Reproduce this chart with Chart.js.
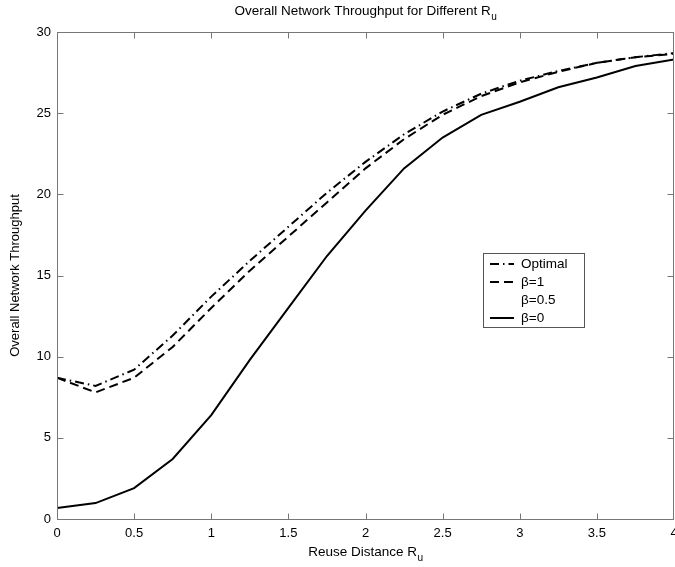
<!DOCTYPE html>
<html>
<head>
<meta charset="utf-8">
<script src="https://cdn.jsdelivr.net/npm/chart.js@4.4.0/dist/chart.umd.min.js"></script>
<style>
html,body{margin:0;padding:0;background:#fff;}
#wrap{width:675px;height:567px;position:relative;}
</style>
</head>
<body>
<div id="wrap"><canvas id="c" width="675" height="567"></canvas></div>
<script>
const reuseDistance = [0,0.25,0.5,0.75,1,1.25,1.5,1.75,2,2.25,2.5,2.75,3,3.25,3.5,3.75,4];
const optimal = [8.7,8.2,9.2,11.3,13.7,15.9,18.0,20.1,22.0,23.7,25.1,26.2,27.0,27.6,28.1,28.45,28.7];
const beta1   = [8.7,7.8,8.7,10.6,13.0,15.3,17.4,19.5,21.6,23.4,24.9,26.05,26.9,27.55,28.1,28.45,28.65];
const beta05  = [];
const beta0   = [0.68,0.98,1.9,3.7,6.4,9.8,13.0,16.2,19.0,21.6,23.5,24.9,25.7,26.6,27.2,27.9,28.3];
const xTickValues = [0,0.5,1,1.5,2,2.5,3,3.5,4];
const yTickValues = [0,5,10,15,20,25,30];
const titleText = ['Overall Network Throughput for Different R','u'];
const xTitleText = ['Reuse Distance R','u'];
const yTitleText = 'Overall Network Throughput';

const FONT = '"Liberation Sans", Arial, Helvetica, sans-serif';
const pts = arr => arr.map((v,i)=>({x:reuseDistance[i], y:v}));

const boxPlugin = {
  id:'boxPlugin',
  afterDatasetsDraw(chart){
    const ctx = chart.ctx, a = chart.chartArea;
    const xs = chart.scales.x, ys = chart.scales.y;
    ctx.save();
    ctx.strokeStyle = '#777';
    ctx.lineWidth = 1;
    const L = Math.round(a.left)+0.5, T = Math.round(a.top)+0.5;
    const R = Math.round(a.right)-0.5, B = Math.round(a.bottom)+0.5;
    ctx.strokeRect(L, T, R-L, B-T);
    const tl = 6;
    ctx.beginPath();
    xTickValues.forEach(v=>{
      let px = Math.round(xs.getPixelForValue(v))+0.5;
      if (px > R) px = R;
      ctx.moveTo(px, B); ctx.lineTo(px, B - tl);
      ctx.moveTo(px, T); ctx.lineTo(px, T + tl);
    });
    yTickValues.forEach(v=>{
      const py = Math.round(ys.getPixelForValue(v))+0.5;
      ctx.moveTo(L, py); ctx.lineTo(L + tl, py);
      ctx.moveTo(R, py); ctx.lineTo(R - tl, py);
    });
    ctx.stroke();
    ctx.restore();
  },
  afterDraw(chart){
    const ctx = chart.ctx, a = chart.chartArea;
    ctx.save();
    ctx.fillStyle = '#000';
    const drawSub = (parts, cx, baseY, size) => {
      ctx.font = size + 'px ' + FONT;
      const w1 = ctx.measureText(parts[0]).width;
      ctx.font = (size*0.75) + 'px ' + FONT;
      const w2 = ctx.measureText(parts[1]).width;
      const x0 = cx - (w1 + w2)/2;
      ctx.textAlign = 'left'; ctx.textBaseline = 'alphabetic';
      ctx.font = size + 'px ' + FONT;
      ctx.fillText(parts[0], x0, baseY);
      ctx.font = (size*0.75) + 'px ' + FONT;
      ctx.fillText(parts[1], x0 + w1 + 0.5, baseY + 5);
    };
    const cx = (a.left + a.right)/2;
    drawSub(titleText, cx, 15, 13.5);
    drawSub(xTitleText, cx, 556, 13.5);
    ctx.save();
    ctx.translate(15, (a.top + a.bottom)/2);
    ctx.rotate(-Math.PI/2);
    ctx.font = '13px ' + FONT;
    ctx.textAlign = 'center'; ctx.textBaseline = 'middle';
    ctx.fillText(yTitleText, 0, 0);
    ctx.restore();
    // legend
    const lx = 483, ly = 253, lw = 101, lh = 74;
    ctx.fillStyle = '#fff';
    ctx.fillRect(lx, ly, lw, lh);
    ctx.strokeStyle = '#555'; ctx.lineWidth = 1;
    ctx.strokeRect(lx+0.5, ly+0.5, lw, lh);
    const rows = [264, 282, 300, 318];
    chart.data.datasets.forEach((ds, i) => {
      const y = rows[i];
      if (ds.borderWidth > 0) {
        ctx.beginPath();
        ctx.strokeStyle = ds.borderColor;
        ctx.lineWidth = ds.borderWidth;
        ctx.setLineDash(ds.borderDash || []);
        ctx.moveTo(490, y); ctx.lineTo(514, y);
        ctx.stroke();
        ctx.setLineDash([]);
      }
      ctx.fillStyle = '#000';
      ctx.font = '13.5px ' + FONT;
      ctx.textAlign = 'left'; ctx.textBaseline = 'middle';
      ctx.fillText(ds.label, 521, y);
    });
    ctx.restore();
  }
};

new Chart(document.getElementById('c'), {
  type:'line',
  data:{
    datasets:[
      {label:'Optimal', data:pts(optimal), borderColor:'#000', borderWidth:2, borderDash:[9,4,1.5,4], pointRadius:0, fill:false, tension:0},
      {label:'β=1', data:pts(beta1), borderColor:'#000', borderWidth:2, borderDash:[9,5], pointRadius:0, fill:false, tension:0},
      {label:'β=0.5', data:pts(beta05), borderColor:'rgba(0,0,0,0)', borderWidth:0, pointRadius:0, fill:false},
      {label:'β=0', data:pts(beta0), borderColor:'#000', borderWidth:2, pointRadius:0, fill:false, tension:0}
    ]
  },
  options:{
    responsive:false,
    animation:false,
    devicePixelRatio:1,
    layout:{padding:{top:32, right:1, left:0, bottom:0}},
    plugins:{legend:{display:false}, title:{display:false}, tooltip:{enabled:false}},
    scales:{
      x:{
        type:'linear', min:0, max:4,
        afterBuildTicks(s){ s.ticks = xTickValues.map(v=>({value:v})); },
        afterFit(s){ s.height = 48; s.paddingLeft = 0; s.paddingRight = 0; },
        grid:{display:false, drawTicks:false},
        border:{display:false},
        ticks:{padding:7, color:'#000', font:{family:FONT, size:13}, maxRotation:0, callback:v=>String(v)}
      },
      y:{
        type:'linear', min:0, max:30,
        afterBuildTicks(s){ s.ticks = yTickValues.map(v=>({value:v})); },
        afterFit(s){ s.width = 57; s.paddingTop = 0; s.paddingBottom = 0; },
        grid:{display:false, drawTicks:false},
        border:{display:false},
        ticks:{padding:6, color:'#000', font:{family:FONT, size:13}, callback:v=>String(v)}
      }
    }
  },
  plugins:[boxPlugin]
});
</script>
</body>
</html>
